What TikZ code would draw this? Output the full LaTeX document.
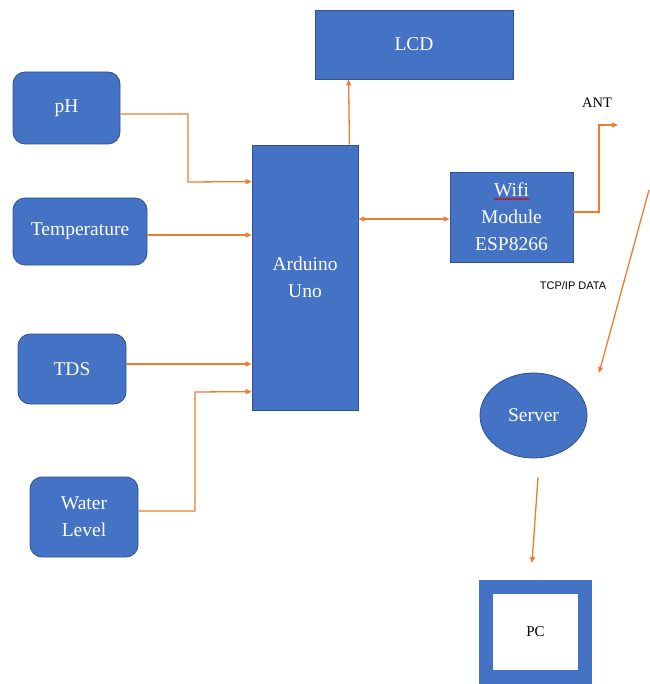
\documentclass[tikz,border=0pt]{standalone}
\usepackage{fontspec}
\setmainfont{Liberation Serif}
\newfontfamily\sansfont{Liberation Sans}
\usetikzlibrary{calc, positioning}
\usetikzlibrary{arrows.meta}
\usetikzlibrary{shapes.geometric}
\usetikzlibrary{decorations.pathmorphing}

\definecolor{blockblue}{HTML}{4472C4}
\definecolor{edgeblue}{HTML}{2F528F}
\definecolor{wireorange}{HTML}{ED7D31}

\begin{document}
\begin{tikzpicture}[x=1pt, y=-1pt,
  >={Triangle[length=6pt, width=5pt]},
  block/.style={draw=edgeblue, fill=blockblue, text=white, line width=0.8pt,
    inner sep=0pt, align=center, font=\fontsize{19.5}{27}\selectfont},
  sensor/.style={block, rounded corners=12pt},
  wire/.style={draw=wireorange, line width=1.3pt, ->}]
\useasboundingbox (0,0) rectangle (649,684);

% sensors on the left
\node[sensor, minimum width=107pt, minimum height=72pt] (ph) at (66.5,108) {pH};
\node[sensor, minimum width=134pt, minimum height=67pt] (temp) at (80,231.5) {Temperature};
\node[sensor, minimum width=108pt, minimum height=70pt] (tds) at (72,369) {TDS};
\node[sensor, minimum width=108pt, minimum height=80pt] (water) at (84,517) {Water\\Level};

% controller, display and wifi
\node[block, minimum width=106pt, minimum height=265pt] (ard) at (305,277.5) {Arduino\\Uno};
\node[block, minimum width=198pt, minimum height=69pt] (lcd) at (414,44.5) {LCD};
\node[block, minimum width=123pt, minimum height=90pt] (wifi) at (511.5,217) {Wifi\\Module\\ESP8266};
\draw[red!85!black, line width=0.8pt, decorate,
  decoration={snake, amplitude=0.7pt, segment length=3pt}] (494,199) -- (530,199);

% server and pc
\node[block, ellipse, minimum width=107pt, minimum height=85pt] (srv) at (533.5,415.5) {Server};
\node[draw=blockblue, line width=14pt, fill=white, minimum width=99pt, minimum height=90pt,
  inner sep=0pt, font=\fontsize{15}{18}\selectfont] (pc) at (535.5,632) {PC};

\node[font=\fontsize{14.5}{17}\selectfont] (antlabel) at (597,103) {ANT};
\node[font=\sansfont\fontsize{11}{13}\selectfont] (tcplabel) at (573,286) {TCP/IP DATA};

\coordinate (ant) at (618,125);
\coordinate (link) at (649,190);
\coordinate (srvin) at (599,373);

% inputs to the arduino
\draw[wire] ([yshift=-6pt]ph.east) -- (188,114) -- (188,182) -- ($(ard.north west)+(0,37)$);
\draw[wire] ([yshift=-3.5pt]temp.east) -- ([yshift=-3.5pt]temp.east -| ard.west);
\draw[wire] ([yshift=5pt]tds.east) -- ([yshift=5pt]tds.east -| ard.west);
\draw[wire] ([yshift=6pt]water.east) -- (195,511) -- (195,392) -- ($(ard.north west)+(0,247)$);

\draw[wire] ($(ard.north east)+(-9,0)$) -- ($(lcd.south west)+(34,0)$);
\draw[wire, <->] ([yshift=-2pt]wifi.west -| ard.east) -- ([yshift=-2pt]wifi.west);
\draw[wire] ([yshift=5pt]wifi.east) -- (599,212) -- (599,125) -- (ant);
\draw[wire] (link) -- (srvin);
\draw[wire] ($(srv.south)+(4.5,19)$) -- ($(pc.north)+(-3.5,-17)$);
\end{tikzpicture}
\end{document}
